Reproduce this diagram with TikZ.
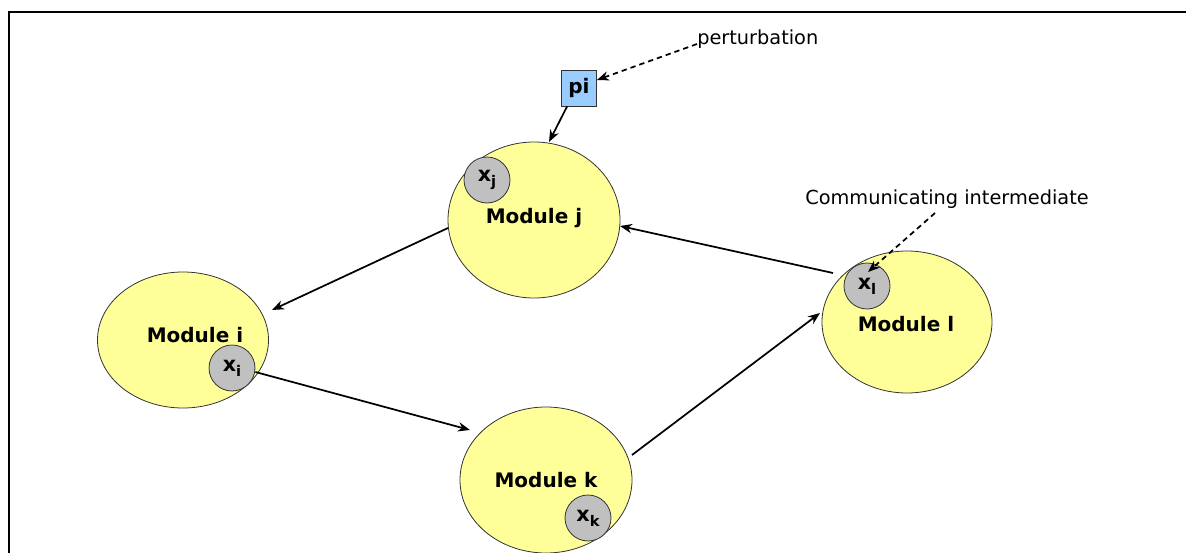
\documentclass[tikz,border=0pt]{standalone}
\usepackage{fontspec}
\setmainfont{DejaVu Sans}
\usetikzlibrary{arrows.meta,shapes.geometric}
\newcommand{\sbx}[1]{\textbf{x}\raisebox{-0.45ex}{\fontsize{11}{11}\selectfont\bfseries #1}}
\tikzset{
  module/.style={ellipse, draw=black!80, line width=0.6pt, fill={rgb,255:red,255;green,255;blue,153}, inner sep=0pt},
  var/.style={circle, draw=black!80, line width=0.6pt, fill={rgb,255:red,192;green,192;blue,192}, minimum size=46*0.75pt, inner sep=0pt, font=\fontsize{15.5}{16}\selectfont},
  lab/.style={font=\fontsize{15}{16}\selectfont\bfseries},
  conn/.style={line width=1.3pt, -{Stealth[length=9pt,width=7pt]}},
  dconn/.style={line width=1.3pt, dashed, dash pattern=on 4pt off 3pt, -{Stealth[length=9pt,width=7pt]}},
  note/.style={font=\fontsize{14.5}{15}\selectfont, inner sep=0pt}
}
\begin{document}
\begin{tikzpicture}[x=0.75pt,y=-0.75pt]
\useasboundingbox (0,0) rectangle (1186,553);
% frame
\draw[line width=1.8pt] (9,553) -- (9,12) -- (1186,12);
% modules
\node[module, minimum width=172*0.75pt, minimum height=156*0.75pt] (mj) at (534,220) {};
\node[module, minimum width=171*0.75pt, minimum height=136*0.75pt] (mi) at (183,340) {};
\node[module, minimum width=172*0.75pt, minimum height=146*0.75pt] (mk) at (546,480) {};
\node[module, minimum width=170*0.75pt, minimum height=142*0.75pt] (ml) at (907,322) {};
\node[lab] (tj) at (534,218) {Module j};
\node[lab] (ti) at (195,335) {Module i};
\node[lab] (tk) at (546,480) {Module k};
\node[lab] (tl) at (906,324) {Module l};
% variables
\node[var] (xj) at (487,180) {\sbx{j}};
\node[var] (xi) at (232,368) {\sbx{i}};
\node[var] (xk) at (588,518) {\sbx{k}};
\node[var] (xl) at (867,286) {\sbx{l}};
% perturbation
\node[draw=black!80, line width=0.6pt, fill={rgb,255:red,153;green,204;blue,255}, minimum width=35*0.75pt, minimum height=36*0.75pt, inner sep=0pt, lab] (pi) at (579,88) {pi};
\node[note, anchor=west] (pert) at (697,39) {perturbation};
\node[note] (comm) at (947,199) {Communicating intermediate};
% connectors
\coordinate (pa) at (697,44);
\coordinate (ca) at (935,213);
\draw[dconn] (pa) -- (pi.east |- 0,80);
\draw[conn] (pi.south west) ++(6,0) -- (549,142);
\draw[dconn] (ca) -- (868,272);
\draw[conn] (448,228) -- (272,310);
\draw[conn] (xi.east) ++(0,4) -- (470,430);
\draw[conn] (632,455) -- (820,313);
\draw[conn] (833,273) -- (620,226);
\end{tikzpicture}
\end{document}
